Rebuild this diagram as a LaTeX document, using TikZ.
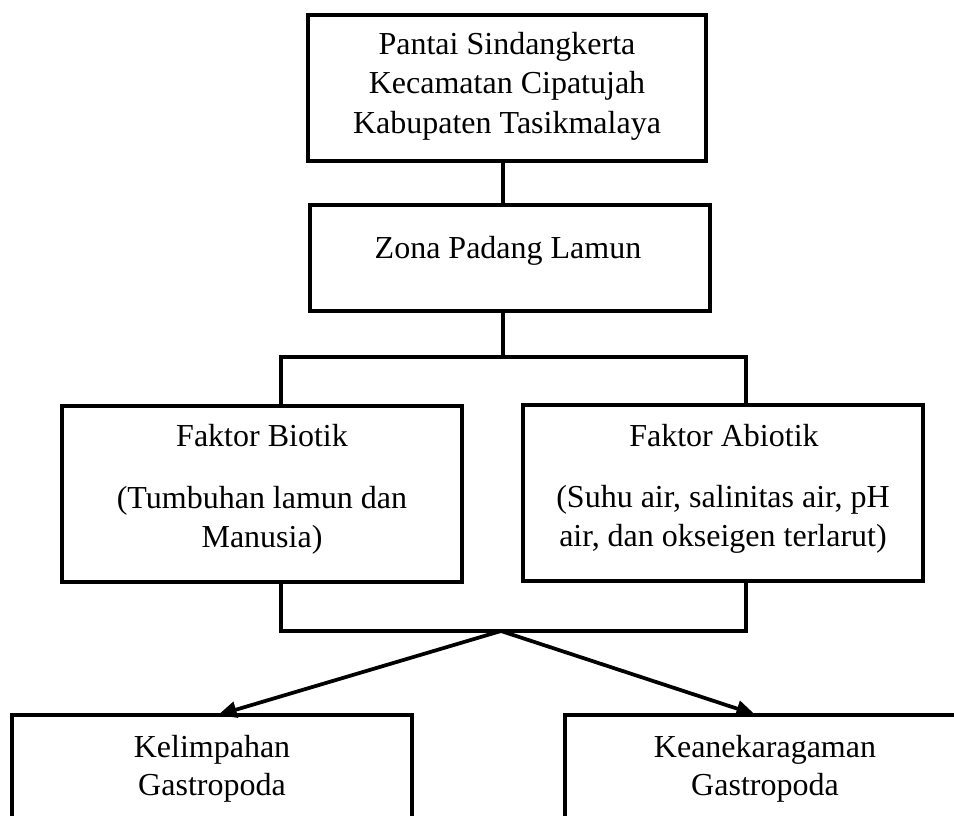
\documentclass[tikz,border=0pt]{standalone}
\usepackage{fontspec}
\setmainfont{Liberation Serif}
\usetikzlibrary{arrows.meta,calc}
\def\u{0.75pt}
\tikzset{
  boxnode/.style={draw=black, line width=3pt, inner sep=0pt, outer sep=0pt, fill=none},
  txt/.style={anchor=base, inner sep=0pt, font=\fontsize{24}{29}\selectfont},
  conn/.style={draw=black, line width=2.8pt},
  arr/.style={conn, -{Triangle[length=14pt,width=12pt]}}
}
\begin{document}
\begin{tikzpicture}[x=0.75pt,y=-0.75pt]
\clip (0,0) rectangle (954,815);
\fill[white] (0,0) rectangle (954,815);
% boxes
\node[boxnode, minimum width=398.5*\u, minimum height=146*\u] (top) at (506.75,88) {};
\node[boxnode, minimum width=400*\u, minimum height=106*\u] (zona) at (509.5,258) {};
\node[boxnode, minimum width=400*\u, minimum height=176*\u] (bio) at (262,494) {};
\node[boxnode, minimum width=400*\u, minimum height=176*\u] (abio) at (723,493) {};
\node[boxnode, minimum width=400*\u, minimum height=185*\u] (kel) at (212,807.5) {};
\node[boxnode, minimum width=400*\u, minimum height=185*\u] (kea) at (765,807) {};
% texts
\node[txt] (t1) at (507,54) {Pantai Sindangkerta};
\node[txt] (t2) at (507,93.5) {Kecamatan Cipatujah};
\node[txt] (t3) at (507,133) {Kabupaten Tasikmalaya};
\node[txt] (z1) at (508,258) {Zona Padang Lamun};
\node[txt] (b1) at (262,446) {Faktor Biotik};
\node[txt] (b2) at (262,508) {(Tumbuhan lamun dan};
\node[txt] (b3) at (262,547) {Manusia)};
\node[txt] (a1) at (724,446) {Faktor Abiotik};
\node[txt] (a2) at (723,507) {(Suhu air, salinitas air, pH};
\node[txt] (a3) at (723,546) {air, dan okseigen terlarut)};
\node[txt] (k1) at (212,757) {Kelimpahan};
\node[txt] (k2) at (212,795) {Gastropoda};
\node[txt] (e1) at (765,757) {Keanekaragaman};
\node[txt] (e2) at (765,795) {Gastropoda};
% junction coordinates
\coordinate (jc) at (503,357);
\coordinate (jl) at (281,357);
\coordinate (jr) at (746,357);
\coordinate (bl) at (281,631);
\coordinate (br) at (746,631);
\coordinate (bc) at (501,631);
\coordinate (tipl) at (218,713);
\coordinate (tipr) at (755,713);
% connectors
\draw[conn] (top.south -| jc) -- (zona.north -| jc);
\draw[conn] (zona.south -| jc) -- (jc);
\draw[conn] (jl |- bio.north) -- (jl) -- (jr) -- (jr |- abio.north);
\draw[conn] (bio.south -| bl) -- (bl) -- (br) -- (abio.south -| br);
\draw[arr] (bc) -- (kel.north -| tipl);
\draw[arr] (bc) -- (kea.north -| tipr);
\end{tikzpicture}
\end{document}
